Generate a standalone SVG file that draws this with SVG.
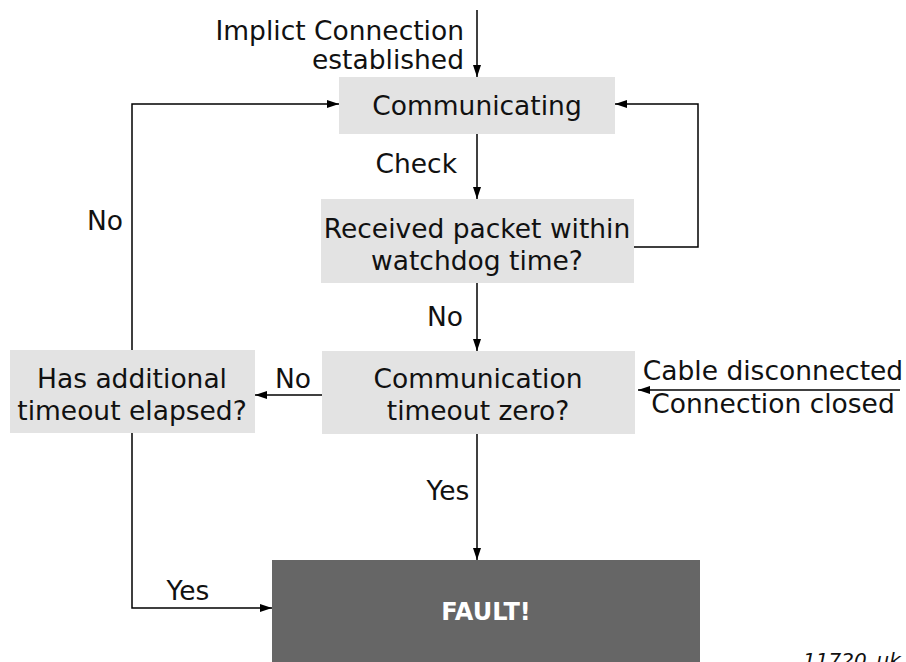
<svg xmlns="http://www.w3.org/2000/svg" width="906" height="662" viewBox="0 0 906 662">
<defs>
<marker id="ah" markerWidth="12" markerHeight="8" refX="12" refY="4" orient="auto" markerUnits="userSpaceOnUse">
<path d="M0,0 L12,4 L0,8 Z" fill="#000"/>
</marker>
<style>
.t{font-family:"DejaVu Sans","Liberation Sans",sans-serif;font-size:26.5px;fill:#111}
.m{text-anchor:middle}
.e{text-anchor:end}
.box{fill:#e3e3e3}
.ln{stroke:#000;stroke-width:1.5;fill:none}
.ar{marker-end:url(#ah)}
</style>
</defs>
<rect width="906" height="662" fill="#fff"/>
<g id="communicating">
<rect class="box" x="339" y="77" width="276" height="57"/>
<text class="t m" x="477" y="115">Communicating</text>
</g>
<g id="received">
<rect class="box" x="321" y="199" width="313" height="84"/>
<text class="t m" x="477" y="238">Received packet within</text>
<text class="t m" x="477" y="270">watchdog time?</text>
</g>
<g id="timeout">
<rect class="box" x="322" y="351" width="313" height="83"/>
<text class="t m" x="478" y="388">Communication</text>
<text class="t m" x="478" y="420">timeout zero?</text>
</g>
<g id="additional">
<rect class="box" x="10" y="350" width="245" height="83"/>
<text class="t m" x="132" y="388">Has additional</text>
<text class="t m" x="132" y="420">timeout elapsed?</text>
</g>
<g id="fault">
<rect x="272" y="560" width="428" height="102" fill="#666"/>
<text x="486" y="620" text-anchor="middle" style="font-family:'DejaVu Sans','Liberation Sans',sans-serif;font-size:24px;font-weight:bold;fill:#fff">FAULT!</text>
</g>
<g id="connectors">
<line class="ln ar" x1="477" y1="10" x2="477" y2="77"/>
<line class="ln ar" x1="477" y1="134" x2="477" y2="199"/>
<polyline class="ln ar" points="634,247 698,247 698,104 615,104"/>
<line class="ln ar" x1="477" y1="283" x2="477" y2="351"/>
<line class="ln ar" x1="322" y1="395" x2="255" y2="395"/>
<line class="ln ar" x1="900" y1="390" x2="638" y2="390"/>
<polyline class="ln ar" points="132,350 132,104 339,104"/>
<polyline class="ln ar" points="132,433 132,608 272,608"/>
<line class="ln ar" x1="477" y1="434" x2="477" y2="560"/>
</g>
<g id="labels">
<text class="t e" x="464" y="40">Implict Connection</text>
<text class="t e" x="464" y="69">established</text>
<text class="t e" x="457" y="173">Check</text>
<text class="t m" x="445" y="326">No</text>
<text class="t m" x="105" y="230">No</text>
<text class="t m" x="293" y="388">No</text>
<text class="t m" x="773" y="380">Cable disconnected</text>
<text class="t m" x="773" y="413">Connection closed</text>
<text class="t m" x="448" y="500">Yes</text>
<text class="t m" x="188" y="600">Yes</text>
<text x="803" y="667" style="font-family:'DejaVu Sans','Liberation Sans',sans-serif;font-size:20px;font-style:italic;fill:#111">11720_uk</text>
</g>
</svg>
